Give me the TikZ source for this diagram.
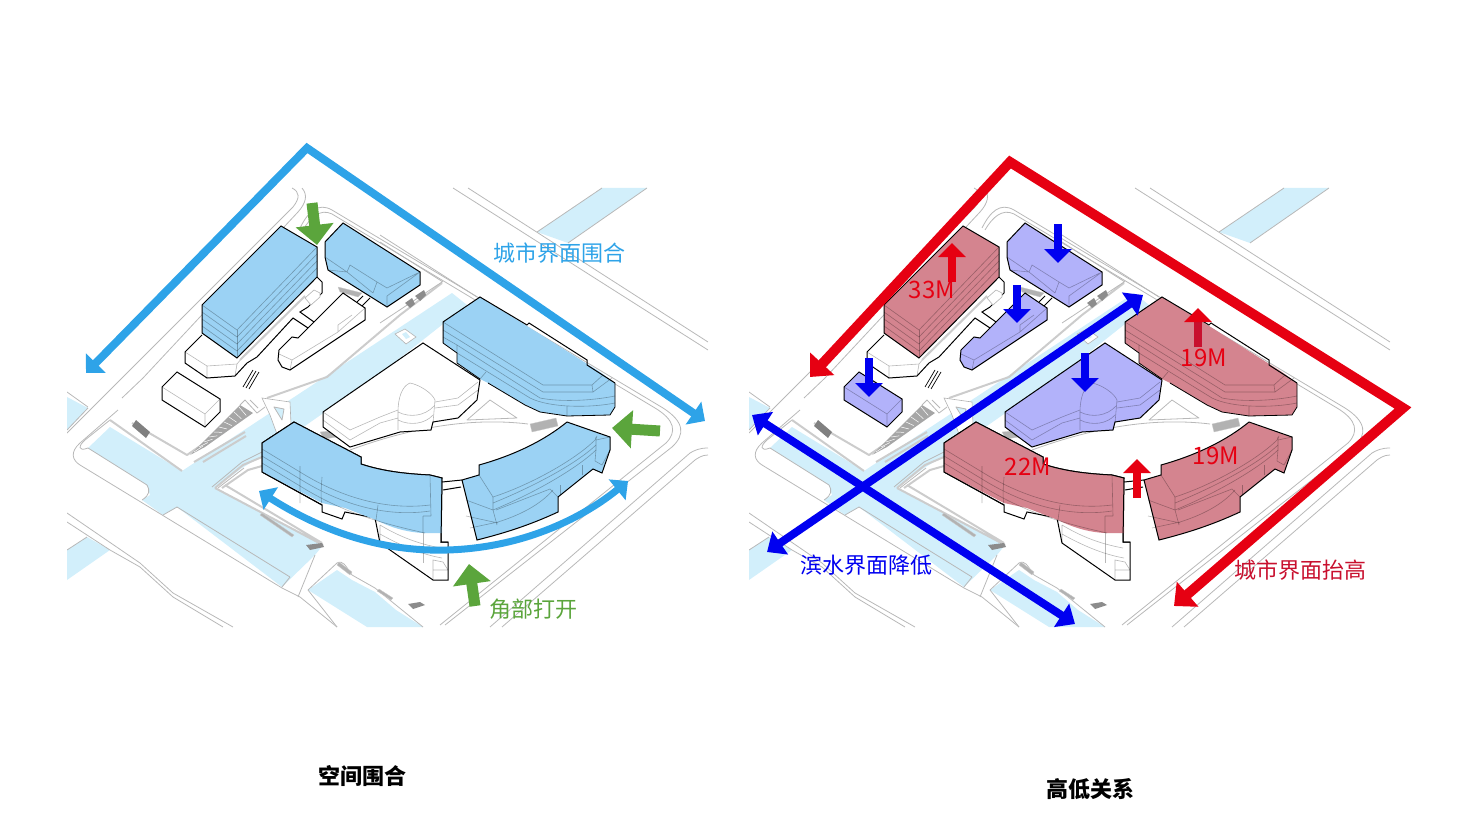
\documentclass[tikz,border=0pt]{standalone}
\usepackage{fontspec}
\usepackage{xcolor}
\usetikzlibrary{arrows.meta}
\newfontfamily\cjk{Noto Sans CJK SC}

\definecolor{waterBlue}{HTML}{D2EFFB}
\definecolor{skyBlue}{HTML}{2EA3E8}
\definecolor{massBlue}{HTML}{9BD2F4}
\definecolor{leafGreen}{HTML}{5BA53C}
\definecolor{alarmRed}{HTML}{E60012}
\definecolor{deepRed}{HTML}{C8102E}
\definecolor{massRed}{HTML}{D4848F}
\definecolor{massViolet}{HTML}{B2B2FA}
\definecolor{pureBlue}{HTML}{0000F0}

\tikzset{
  water/.style={fill=waterBlue, draw=none},
  road/.style={draw=black!28, line width=0.8pt, line join=round},
  quay/.style={draw=black!20, line width=2pt, line join=round},
  thinwall/.style={draw=black!30, line width=0.6pt, fill=white},
  stairs/.style={fill=black!30, draw=black!20, line width=0.3pt},
  hardline/.style={draw=black, line width=1pt, line join=miter},
  floorline/.style={draw=black, draw opacity=0.28, line width=0.6pt},
  outerarrow/.style={line width=8pt, line join=miter, {Triangle[length=14pt,width=27pt]}-{Triangle[length=14pt,width=27pt]}},
  redarrow/.style={line width=10pt, line join=miter, alarmRed, {Triangle[length=18pt,width=32pt]}-{Triangle[length=18pt,width=32pt]}},
  crossarrow/.style={line width=8pt, pureBlue, {Triangle[length=16pt,width=27pt]}-{Triangle[length=16pt,width=27pt]}},
  greenarrow/.style={line width=11pt, leafGreen, -{Triangle[length=20pt,width=37pt]}},
  smallarrow/.style={line width=7.5pt, -{Triangle[length=14pt,width=27pt]}},
  label/.style={font=\cjk\fontsize{22}{24}\selectfont, inner sep=0pt},
  heightlabel/.style={font=\cjk\fontsize{24}{26}\selectfont, inner sep=0pt, text=alarmRed},
  title/.style={font=\cjk\bfseries\fontsize{22}{24}\selectfont, inner sep=0pt, text=black},
}

% footprints, shared by the two panels
\def\towerBody{(281,226) -- (317,247) -- (317,277) -- (237,358) -- (202,333) -- (202,305) -- cycle}
\def\wingB{(343,223) -- (420,272) -- (420,285) -- (387,307) -- (328,270) -- (325,257) -- (325,242) -- cycle}
\def\wingC{(343,293) -- (365,308) -- (365,320) -- (290,370) -- (282,367) -- (278,360) -- (279,350) -- (292,337) -- (298,338) -- (314,322) -- cycle}
\def\boxD{(177,372) -- (220,399) -- (220,412) -- (205,427) -- (162,400) -- (162,387) -- cycle}
\def\hallEmass{(480,297) -- (527,326) -- (600,372) -- (615,383) -- (615,407) -- (610,415) -- (567,416) -- (540,412) -- (525,405) -- (488,383) -- (480,379) -- (457,363) -- (457,353) -- (443,343) -- (443,322) -- cycle}
\def\centreF{(423,343) -- (480,380) -- (477,400) -- (458,418) -- (433,422) -- (431,430) -- (400,432) -- (350,447) -- (323,427) -- (323,412) -- cycle}
\def\arcG{(294,422) -- (361,457) -- (361,464) .. controls (385,472) and (410,474) .. (430,475) -- (442,478) -- (441,542) -- (448,542) -- (448,580) -- (433,580) -- (380,543) -- (375,518) -- (345,512) -- (342,519) -- (322,512) -- (322,505) -- (262,472) -- (262,443) -- cycle}
\def\arcGmass{(294,422) -- (361,457) -- (361,464) .. controls (385,472) and (410,474) .. (430,475) -- (442,478) -- (442,533) -- (423,533) .. controls (405,532) and (390,527) .. (376,520) -- (345,508) -- (322,503) -- (262,472) -- (262,443) -- cycle}
\def\arcH{(567,422) -- (610,437) -- (610,450) -- (602,473) -- (593,469) -- (558,497) -- (558,512) .. controls (530,525) and (505,533) .. (477,540) -- (462,480) -- (479,475) -- (479,465) .. controls (515,455) and (545,440) .. (567,422) -- cycle}

% #1 tower and the long halls, #2 north wing, #3 the remaining low blocks
\newcommand{\sitebase}[3]{
  % Water
  \fill[water] (88,448) -- (110,427) -- (182,471) -- (452,293) -- (467,305) -- (385,370) -- (262,456) -- (242,468) -- (215,488) -- (323,545) -- (315,555) -- (282,587) -- (177,507) -- (163,515) -- (142,500) -- (150,495) -- (147,485) -- cycle;
  \fill[water] (337,570) -- (308,590) -- (367,627) -- (423,627) -- (396,610) -- (375,592) -- (352,580) -- cycle;
  \fill[water] (67,397) -- (88,408) -- (67,430) -- cycle;
  \fill[water] (67,550) -- (87,537) -- (110,550) -- (67,580) -- cycle;
  \fill[water] (537,232) -- (602,188) -- (647,188) -- (568,243) -- cycle;
  % Roads
  \draw[road] (453,188) -- (708,350);
  \draw[road] (468,188) -- (708,342);
  \draw[road] (537,232) -- (602,188);
  \draw[road] (568,243) -- (647,188);
  \draw[road] (292,188) .. controls (300,192) and (300,198) .. (293,207) -- (123,377) -- (67,433);
  \draw[road] (302,188) .. controls (308,195) and (306,203) .. (298,212) -- (143,378) -- (122,398);
  \draw[road] (300,228) .. controls (308,212) and (318,202) .. (332,210) -- (663,408) .. controls (685,422) and (685,435) .. (672,447) -- (445,625);
  \draw[road] (303,230) .. controls (310,218) and (320,208) .. (332,214) -- (655,408) .. controls (675,420) and (677,432) .. (666,443) -- (440,625);
  \draw[road] (708,448) .. controls (700,448) and (695,450) .. (690,453) -- (490,627);
  \draw[road] (708,455) .. controls (702,455) and (698,458) .. (695,460) -- (502,627);
  \draw[road] (118,410) -- (80,443) .. controls (70,452) and (72,460) .. (80,465) -- (282,588) -- (300,597) -- (337,627);
  \draw[road] (110,420) -- (85,440) .. controls (78,446) and (78,452) .. (88,448) (147,485) .. controls (150,490) and (150,495) .. (142,500);
  \draw[road] (88,448) -- (147,485);
  \draw[road] (163,515) -- (177,507) -- (290,577);
  \draw[road] (290,577) -- (282,587) (315,555) -- (298,597) (308,590) -- (337,627);
  \draw[road] (67,513) -- (140,563) -- (173,593) -- (233,627);
  \draw[road] (67,522) -- (110,550) -- (140,567) -- (173,597) -- (223,627);
  \draw[road] (67,392) -- (88,407) (67,430) -- (88,408) (67,550) -- (87,537);
  \draw[road] (337,563) -- (308,590) (337,563) .. controls (343,560) and (345,565) .. (352,575) -- (375,588) -- (423,627);
  % Plazas and quays
  \draw[quay] (132,423) -- (187,455) -- (245,415) (110,420) -- (182,471);
  \draw[quay] (267,398) -- (327,377) -- (400,315) -- (442,283);
  \draw[road] (380,323) -- (442,282) (380,235) -- (477,297) (380,242) -- (443,282);
  \draw[quay] (215,488) -- (243,465) -- (262,457) (222,488) -- (248,470) -- (262,466);
  \draw[quay] (215,488) -- (323,545) (225,485) -- (322,543);
  \draw[road] (218,488) -- (244,468) (212,487) -- (242,462) -- (262,452);
  \draw[thinwall] (262,398) -- (290,402) -- (291,424) -- (277,434) -- (270,415) -- cycle;
  \draw[road, fill=waterBlue] (274,407) -- (284,409) -- (282,420) -- cycle;
  \draw[quay] (194,462) -- (245,432) (203,462) -- (246,436);
  \draw[thinwall] (395,334) -- (405,329) -- (416,337) -- (406,344) -- cycle;
  \fill[waterBlue] (402,334) -- (406,332) -- (410,337) -- (406,339) -- cycle;
  % Steps and stands
  \fill[black!35] (190,455) -- (240,405) -- (253,413) -- (205,447) -- cycle;
  \foreach \i in {0,...,9} {\draw[white, line width=0.5pt] (194+\i*5,452-\i*5) -- (203+\i*4.8,446-\i*3.4);}
  \draw[road] (240,405) -- (245,400) -- (257,413) -- (265,407) (250,400) -- (258,408);
  \fill[black!50] (132,426) -- (136,420) -- (150,432) -- (146,438) -- cycle;
  \fill[stairs] (260,515) -- (262,513) -- (294,535) -- (292,537) -- cycle;
  \fill[black!45] (306,545) -- (322,543) -- (324,547) -- (310,550) -- cycle;
  \fill[stairs] (337,565) -- (339,562) -- (352,572) -- (350,575) -- cycle;
  \fill[stairs] (377,591) -- (379,589) -- (393,598) -- (391,600) -- cycle;
  \fill[black!45] (408,604) -- (420,602) -- (425,605) -- (413,609) -- cycle;
  \fill[black!45] (405,303) -- (412,298) -- (415,304) -- (410,308) -- cycle;
  \fill[black!45] (415,296) -- (424,290) -- (426,295) -- (420,301) -- cycle;
  \fill[stairs] (338,287) -- (362,293) -- (358,297) -- (340,292) -- cycle;
  \fill[stairs] (530,424) -- (556,418) -- (558,426) -- (532,432) -- cycle;
  \fill[stairs] (320,432) -- (340,430) -- (344,436) -- (324,439) -- cycle;
  % Lawn and paths
  \draw[road] (350,450) .. controls (410,428) and (470,417) .. (528,424);
  \draw[road] (467,420) -- (490,400) -- (517,418) -- cycle;
  % Grounded blocks
  \fill[white] (202,335) -- (185,352) -- (185,363) -- (207,378) -- (235,376) -- (247,363) -- (257,357) -- (293,318) -- (300,312) -- (308,307) -- (322,293) -- (322,282) -- (317,277) -- cycle;
  \draw[hardline] (202,335) -- (185,352) -- (185,363) -- (207,378) -- (235,376) -- (247,363) -- (257,357) -- (293,318) -- (308,328);
  \draw[hardline] (317,277) -- (322,282) -- (322,293) -- (308,307) -- (300,312) -- (314,322);
  \draw[floorline] (185,352) -- (207,366) -- (237,364) -- (247,352) (207,366) -- (207,378) (237,364) -- (235,376);
  \draw[quay] (240,360) -- (305,296);
  \draw[thinwall] (305,298) -- (314,290) -- (320,293) -- (320,297) -- (311,305) -- cycle;
  \draw[hardline, line width=0.7pt] (243,387) -- (253,370) (246,388) -- (256,371) (249,389) -- (259,372);
  \draw[hardline] (357,302) -- (363,296) (362,306) -- (370,298);
  % North wing
  \draw[hardline, fill=#2] \wingB;
  \draw[floorline] (325,257) -- (347,272) -- (350,265) -- (377,282) -- (373,293) (328,270) -- (347,272) (420,272) -- (387,296) -- (387,307) (377,282) -- (387,288) -- (420,272) (347,272) -- (373,293);
  % Canal wing
  \draw[hardline, fill=#3] \wingC;
  \draw[floorline] (279,354) -- (292,360) -- (338,332) -- (365,308) (292,360) -- (290,370) (338,332) -- (338,325) -- (352,315);
  % Tower
  \fill[#1] \towerBody;
  \draw[hardline] \towerBody;
  \foreach \k in {0,7,14,21} {\draw[floorline] (202,305+\k) -- (237,330+\k) -- (317,247+\k);}
  \draw[floorline] (237,330) -- (237,358);
  % Low box
  \draw[hardline, fill=#3] \boxD;
  \draw[floorline] (162,387) -- (205,414) -- (220,399) (205,414) -- (205,427);
  % Central hall
  \draw[hardline, fill=#3] \centreF;
  \draw[floorline] (323,412) -- (350,430) -- (380,417) -- (398,410);
  \draw[floorline] (323,420) -- (350,440) -- (380,423) -- (398,418);
  \draw[floorline] (435,402) -- (458,398) -- (478,382) (435,408) -- (458,405) -- (478,390);
  \draw[floorline] (398,430) -- (398,412) .. controls (398,398) and (402,386) .. (410,383) .. controls (420,385) and (432,393) .. (435,400) -- (433,423);
  \draw[floorline] (398,412) .. controls (410,418) and (425,416) .. (434,406) (398,420) .. controls (410,426) and (425,424) .. (433,415);
  % East hall
  \fill[#1] \hallEmass;
  \draw[hardline] (443,343) -- (443,322) -- (480,297) -- (527,325) -- (529,323) -- (587,360) -- (587,365) -- (615,383);
  \draw[hardline, line width=0.8pt] (443,343) -- (457,353) -- (457,363) -- (480,379) (488,383) -- (525,405) -- (540,412) -- (567,416) -- (610,415) -- (615,407) -- (615,383);
  \draw[floorline] (443,322) -- (543,385) -- (592,385) -- (603,375);
  \draw[floorline] (443,330) -- (543,392) -- (593,392) -- (612,378);
  \draw[floorline] (443,337) -- (457,345) -- (540,398) .. controls (560,402) and (590,401) .. (615,396);
  \draw[floorline] (457,353) -- (530,398) .. controls (550,408) and (590,408) .. (615,403);
  \draw[floorline] (457,345) -- (457,353) (567,406) -- (567,416) (592,385) -- (593,392) (486,372) -- (480,379);
  % South west arc
  \draw[hardline, fill=white] \arcG;
  \draw[floorline] (380,525) -- (380,543) (380,525) .. controls (405,540) and (425,545) .. (441,548) (380,534) .. controls (405,548) and (425,555) .. (442,558);
  \draw[floorline] (433,580) -- (433,560) -- (443,562) -- (448,570) (433,570) -- (448,570);
  \draw[floorline] (423,533) -- (423,563);
  \fill[#1] \arcGmass;
  \draw[hardline] (294,422) -- (361,457) -- (361,464) .. controls (385,472) and (410,474) .. (430,475) -- (442,478) -- (441,542) -- (448,542);
  \draw[hardline] (294,422) -- (262,443) -- (262,472) -- (322,505);
  \draw[floorline] (262,449) -- (300,472) .. controls (345,500) and (390,510) .. (430,505);
  \draw[floorline] (262,456) -- (300,479) .. controls (345,507) and (390,517) .. (430,511);
  \draw[floorline] (262,463) -- (300,486) .. controls (345,514) and (385,524) .. (425,533);
  \draw[floorline] (300,466) -- (300,503) (322,477) .. controls (322,480) and (320,495) .. (322,505);
  \draw[floorline] (430,475) -- (431,516) (423,516) -- (431,516) (423,516) -- (423,533) (376,520) -- (378,505);
  % Links between the arcs
  \draw[hardline] (442,482) -- (462,480) (443,490) -- (461,487);
  % South arc
  \fill[#1] \arcH;
  \draw[hardline] (567,422) -- (610,437) -- (610,450) -- (602,473) -- (593,469) -- (558,497) -- (558,512) .. controls (530,525) and (505,533) .. (477,540) -- (462,480) -- (479,475) -- (479,465) .. controls (515,455) and (545,440) .. (567,422);
  \draw[floorline] (479,475) -- (493,497) .. controls (530,485) and (575,460) .. (595,440) -- (597,436);
  \draw[floorline] (493,497) -- (493,510) (493,510) .. controls (530,495) and (575,470) .. (596,450) -- (596,437);
  \draw[floorline] (493,503) .. controls (530,488) and (575,465) .. (596,445);
  \draw[floorline] (596,440) -- (610,437) (596,450) -- (595,461) (595,461) -- (602,465) -- (610,450);
  \draw[floorline] (466,500) -- (493,510) -- (497,525);
  \draw[floorline] (470,528) -- (498,522) .. controls (520,515) and (540,505) .. (553,490) (466,516) -- (498,523);
  \draw[floorline] (496,510) -- (550,489) -- (558,497);
  \draw[floorline] (560,485) -- (560,495) (582,465) -- (582,475);
}

\begin{document}
\begin{tikzpicture}[x=1pt, y=-1pt]
  \useasboundingbox (0,0) rectangle (1460,840);

  % Left panel
  \begin{scope}
    \clip (67,188) rectangle (710,627);
    \sitebase{massBlue}{massBlue}{white}
  \end{scope}

  % Right panel
  \begin{scope}[xshift=682pt]
    \clip (67,188) rectangle (710,627);
    \sitebase{massRed}{massViolet}{massViolet}
  \end{scope}

  % Coordinates
  \coordinate (BlueApex) at (307,148);
  \coordinate (BlueWest) at (86,373);
  \coordinate (BlueEast) at (705,421);
  \coordinate (RedApex) at (1010,162);
  \coordinate (RedEast) at (1403,408);
  \coordinate (RedWest) at (810,377);
  \coordinate (RedSouth) at (1174,606);
  \coordinate (CrossSW) at (767,552);
  \coordinate (CrossNE) at (1143,295);
  \coordinate (CrossNW) at (752,415);
  \coordinate (CrossSE) at (1075,624);
  \coordinate (CurveStart) at (259,491);
  \coordinate (CurveMid) at (447,550);
  \coordinate (CurveEnd) at (628,481);

  % Arrows, left
  \draw[outerarrow, skyBlue] (BlueWest) -- (BlueApex) -- (BlueEast);
  \draw[skyBlue, line width=7pt, {Triangle[length=14pt,width=26pt]}-{Triangle[length=14pt,width=26pt]}] (CurveStart) .. controls (320,530) and (380,552) .. (CurveMid) .. controls (520,548) and (580,520) .. (CurveEnd);
  \draw[greenarrow] (312,203) -- (317,245);
  \draw[greenarrow] (660,431) -- (612,428);
  \draw[greenarrow] (475,606) -- (469,564);

  % Arrows, right
  \draw[redarrow] (RedWest) -- (RedApex) -- (RedEast) -- (RedSouth);
  \draw[crossarrow] (CrossSW) -- (CrossNE);
  \draw[crossarrow] (CrossNW) -- (CrossSE);
  \draw[smallarrow, pureBlue] (1058,224) -- (1058,263);
  \draw[smallarrow, pureBlue] (1017,285) -- (1017,323);
  \draw[smallarrow, pureBlue] (869,358) -- (869,397);
  \draw[smallarrow, pureBlue] (1085,353) -- (1085,392);
  \draw[smallarrow, alarmRed] (952,282) -- (952,243);
  \draw[smallarrow, deepRed, -{Triangle[length=14pt,width=27pt,color=alarmRed]}] (1198,347) -- (1198,308);
  \draw[smallarrow, alarmRed] (1137,498) -- (1137,459);

  % Labels
  \node[label, text=skyBlue] (CityEnclosed) at (559.5,253) {城市界面围合};
  \node[label, text=leafGreen] (CornerOpen) at (533,609) {角部打开};
  \node[label, text=pureBlue] (WaterLower) at (866,565) {滨水界面降低};
  \node[label, text=deepRed] (CityRaised) at (1300,570) {城市界面抬高};
  \node[heightlabel] (HeightA) at (932,290) {33M};
  \node[heightlabel] (HeightB) at (1204,358) {19M};
  \node[heightlabel] (HeightC) at (1028,467) {22M};
  \node[heightlabel] (HeightD) at (1216,456) {19M};
  \node[title] (TitleLeft) at (362,776) {空间围合};
  \node[title] (TitleRight) at (1090,789) {高低关系};
\end{tikzpicture}
\end{document}
